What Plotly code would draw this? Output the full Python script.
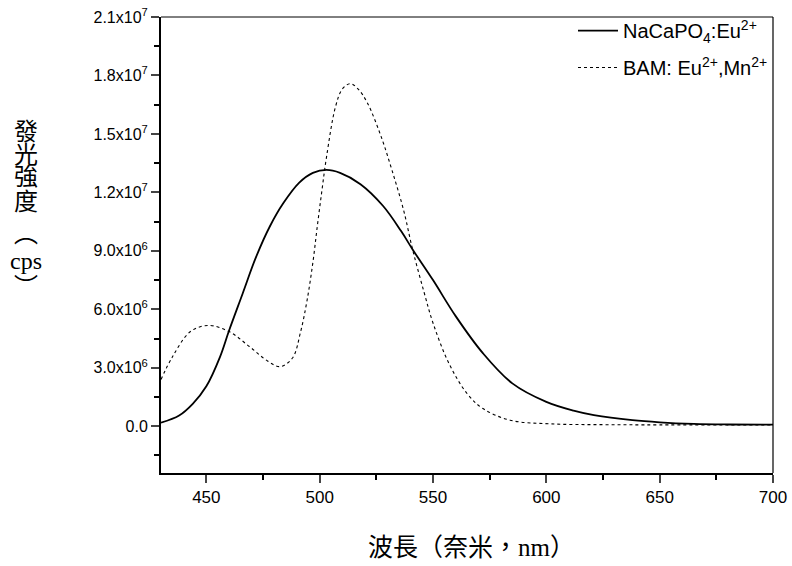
import plotly.graph_objects as go

# NaCaPO4:Eu2+ (solid)
naca_x = [430, 438, 444, 450, 456, 460, 466, 472, 478, 484, 491, 497, 503, 509, 518, 528, 536, 541, 550, 560, 572, 585, 600, 612, 621, 638, 650, 665, 680, 700]
naca_y = [0.18e6, 0.55e6, 1.15e6, 2.05e6, 3.55e6, 4.9e6, 6.8e6, 8.7e6, 10.25e6, 11.45e6, 12.5e6, 13.0e6, 13.15e6, 13.0e6, 12.42e6, 11.3e6, 10.0e6, 9.07e6, 7.5e6, 5.65e6, 3.75e6, 2.2e6, 1.25e6, 0.8e6, 0.57e6, 0.31e6, 0.2e6, 0.12e6, 0.09e6, 0.08e6]

# BAM: Eu2+,Mn2+ (dotted)
bam_x = [430, 435, 443, 451, 460, 469, 477, 482.5, 488, 491.5, 494.5, 497, 499, 501, 503, 507, 510, 513.5, 517, 521, 527, 532, 537, 541, 546, 550, 557, 565, 572, 584, 602, 625, 650, 700]
bam_y = [2.4e6, 3.55e6, 4.86e6, 5.17e6, 4.86e6, 4.09e6, 3.35e6, 3.06e6, 3.5e6, 4.8e6, 6.5e6, 8.4e6, 10.3e6, 12.1e6, 13.8e6, 16.4e6, 17.3e6, 17.58e6, 17.3e6, 16.6e6, 14.9e6, 13.1e6, 11.1e6, 9.07e6, 6.9e6, 5.3e6, 3.23e6, 1.68e6, 0.91e6, 0.31e6, 0.12e6, 0.08e6, 0.07e6, 0.07e6]

y_tickvals = [0, 3e6, 6e6, 9e6, 1.2e7, 1.5e7, 1.8e7, 2.1e7]
y_ticktext = ["0.0", "3.0x10<sup>6</sup>", "6.0x10<sup>6</sup>", "9.0x10<sup>6</sup>",
              "1.2x10<sup>7</sup>", "1.5x10<sup>7</sup>", "1.8x10<sup>7</sup>", "2.1x10<sup>7</sup>"]
x_tickvals = [450, 500, 550, 600, 650, 700]

y_title_chars = ["發", "光", "強", "度", "︵", "cps", "︶"]
x_title = "波長（奈米，<span style='font-family:Liberation Serif'>nm</span>）"

FONT = "Liberation Sans, Arial, sans-serif"
CJK = "Noto Sans CJK TC"

fig = go.Figure()
fig.add_trace(go.Scatter(x=naca_x, y=naca_y, mode="lines", line=dict(color="black", width=1.8, shape="spline", smoothing=1.0),
                         name="NaCaPO<sub>4</sub>:Eu<sup>2+</sup>", legendgroup="a"))
fig.add_trace(go.Scatter(x=bam_x, y=bam_y, mode="lines", line=dict(color="black", width=1.1, dash="dot", shape="spline", smoothing=1.0),
                         name="BAM: Eu<sup>2+</sup>,Mn<sup>2+</sup>", legendgroup="b"))

fig.update_layout(
    width=792, height=566,
    margin=dict(l=161, r=19, t=17, b=93, autoexpand=False),
    paper_bgcolor="white", plot_bgcolor="white",
    font=dict(family=FONT, color="black", size=16),
    showlegend=True,
    legend=dict(x=1, xanchor="right", y=1.013, yanchor="top", font=dict(size=20, family=FONT),
                bgcolor="rgba(0,0,0,0)", traceorder="grouped", tracegroupgap=8, itemwidth=40),
    xaxis=dict(range=[430, 700], tickvals=x_tickvals, ticks="outside", ticklen=8, tickwidth=2, automargin=False,
               ticklabeloverflow="allow",
               showline=True, linewidth=2, linecolor="black", mirror=False, showgrid=False, zeroline=False,
               tickfont=dict(size=17), minor=dict(dtick=25, tick0=425, ticks="outside", ticklen=5, tickwidth=2, tickcolor="black")),
    yaxis=dict(range=[-2.4e6, 2.1e7], tickvals=y_tickvals, ticktext=y_ticktext, ticks="outside", ticklen=8, tickwidth=2, automargin=False,
               ticklabeloverflow="allow",
               showline=True, linewidth=2, linecolor="black", mirror=False, showgrid=False, zeroline=False,
               tickfont=dict(size=16), minor=dict(dtick=1.5e6, tick0=0, ticks="outside", ticklen=5, tickwidth=2, tickcolor="black")),
)

# thin frame top/right
fig.add_shape(type="line", xref="paper", yref="paper", x0=0, x1=1, y0=1, y1=1, line=dict(color="black", width=1))
fig.add_shape(type="line", xref="paper", yref="paper", x0=1, x1=1, y0=0, y1=1, line=dict(color="black", width=1.2))

# vertical y-axis title, one glyph per line (page y centres; plot top 17, bottom 473, left 161, width 612)
y_centres = [129, 152, 175, 199, 231, 261, 284]
for ch, yc in zip(y_title_chars, y_centres):
    fam = "Liberation Serif" if ch == "cps" else CJK
    fig.add_annotation(xref="paper", yref="paper", x=(26 - 161) / 612, y=(473 - yc) / 456,
                       xanchor="center", yanchor="middle", showarrow=False, text=ch,
                       font=dict(family=fam, size=24, color="black"))

fig.add_annotation(xref="paper", yref="paper", x=(471 - 161) / 612, y=(473 - 545) / 456, xanchor="center", yanchor="middle",
                   showarrow=False, text=x_title, font=dict(family=CJK, size=25, color="black"))

fig.write_html("out.html", config={"displayModeBar": False},
               post_script="document.body.style.margin='0px';document.body.style.overflow='hidden';")
